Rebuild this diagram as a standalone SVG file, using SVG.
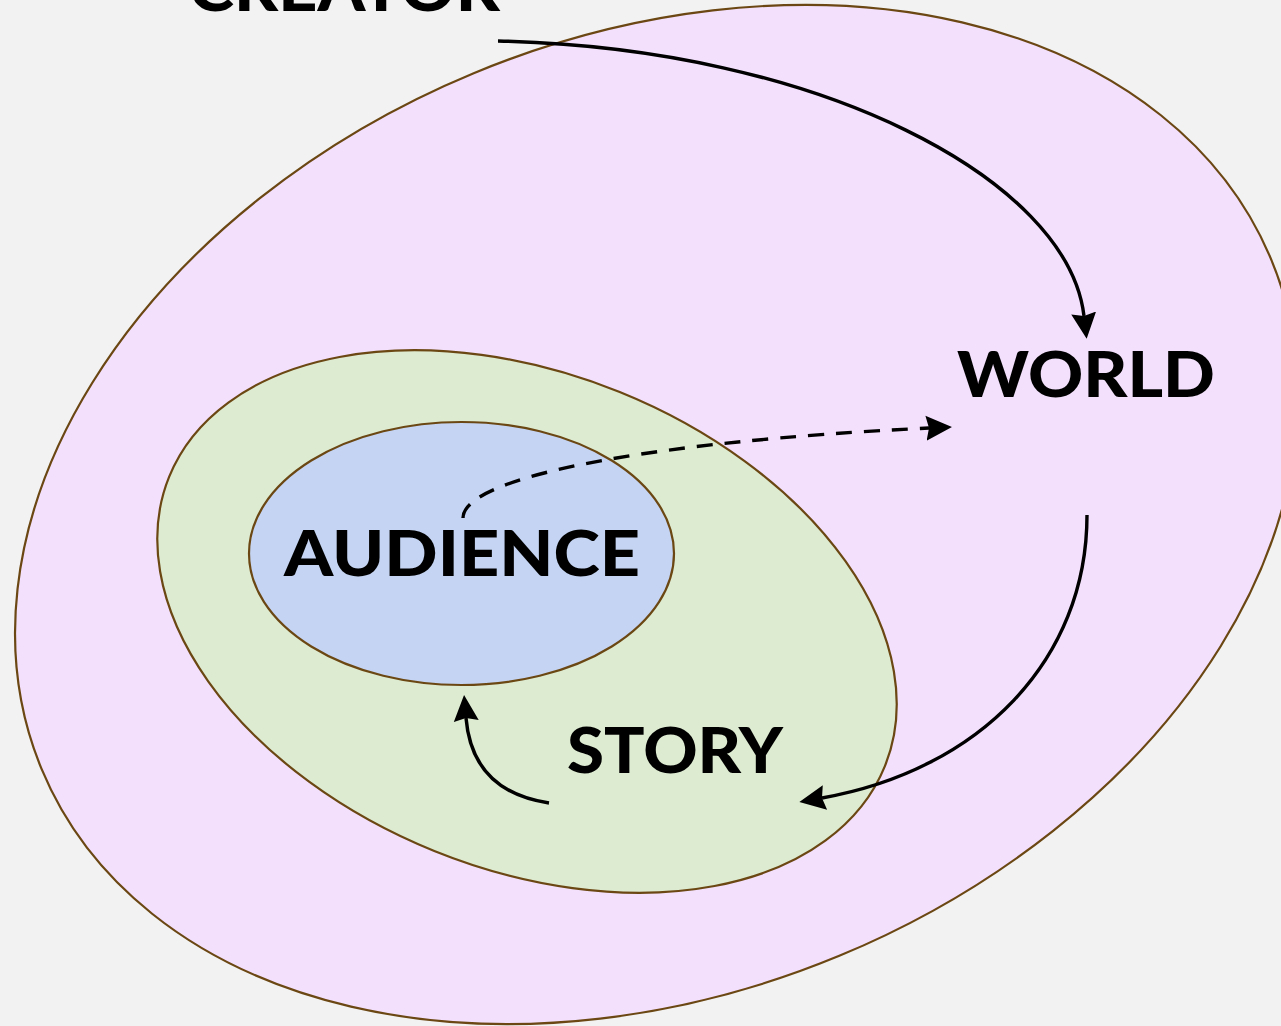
<svg xmlns="http://www.w3.org/2000/svg" width="1281" height="1026" viewBox="0 0 1281 1026">
  <style>
    .ring { stroke: #6b4713; stroke-width: 2.2; }
    .label { font-family: Lato, "Open Sans", "Liberation Sans", sans-serif; font-weight: 900; font-size: 63px; fill: #000; }
    .link { fill: none; stroke: #000; stroke-width: 3.4; }
    .dashed { stroke-dasharray: 16 12; }
  </style>
  <defs>
    <marker id="head" viewBox="0 -14 30 28" refX="3" refY="0" markerWidth="30" markerHeight="28" markerUnits="userSpaceOnUse" orient="auto">
      <path d="M26,0 L0,-12.5 L3,0 L0,12.5 Z" fill="#000"/>
    </marker>
  </defs>

  <rect width="1281" height="1026" fill="#f2f2f2"/>

  <!-- outer ring: world -->
  <g id="world">
    <ellipse class="ring" cx="656.5" cy="514.5" rx="665.5" ry="477.7" transform="rotate(-22.5 656.5 514.5)" fill="#f3e0fc"/>
    <text class="label" x="957" y="397" textLength="258" lengthAdjust="spacingAndGlyphs">WORLD</text>
  </g>

  <!-- middle ring: story -->
  <g id="story">
    <ellipse class="ring" cx="527" cy="621.5" rx="386" ry="247.5" transform="rotate(22 527 621.5)" fill="#ddebd1"/>
    <text class="label" x="567" y="773" textLength="216" lengthAdjust="spacingAndGlyphs">STORY</text>
  </g>

  <!-- inner ring: audience -->
  <g id="audience">
    <ellipse class="ring" cx="461.5" cy="553.5" rx="212.5" ry="131.5" fill="#c4d4f2"/>
    <text class="label" x="284" y="576" textLength="356" lengthAdjust="spacingAndGlyphs">AUDIENCE</text>
  </g>

  <!-- creator label, partly above the top edge -->
  <g id="creator">
    <text class="label" x="189" y="11" textLength="311" lengthAdjust="spacingAndGlyphs">CREATOR</text>
  </g>

  <g id="connectors">
    <path class="link" d="M498,41 C820,48 1068,180 1084,316" marker-end="url(#head)"/>
    <path class="link" d="M1087,515 C1087,660 980,770 822,798" marker-end="url(#head)"/>
    <path class="link" d="M549,803 C495,795 470,765 466,718" marker-end="url(#head)"/>
    <path class="link dashed" d="M463,518 C463,478 640,442 929,428" marker-end="url(#head)"/>
  </g>
</svg>
